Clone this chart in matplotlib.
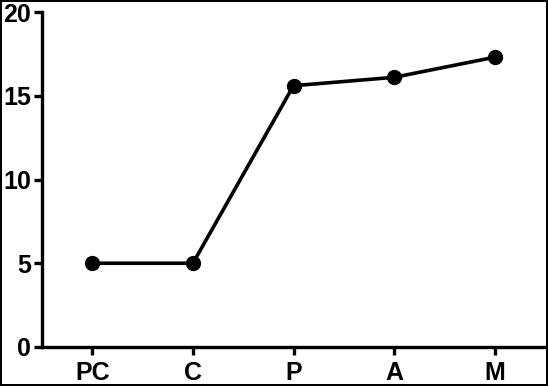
import matplotlib
matplotlib.use("Agg")
from matplotlib import pyplot as plt

groups = ["PC", "C", "P", "A", "M"]
values = [5.0, 5.0, 15.6, 16.1, 17.3]
yticks = [0, 5, 10, 15, 20]

plt.rcParams['font.family'] = ['Liberation Sans', 'DejaVu Sans']
plt.rcParams['font.weight'] = 'bold'

fig = plt.figure(figsize=(5.48, 3.86), dpi=100, edgecolor='black', linewidth=1.5)
ax = fig.add_axes([42/548, 39/386, 503/548, 335/386])

x = list(range(len(groups)))
ax.plot(x, values, color='black', lw=2.6, marker='o', markersize=10)

ax.set_xlim(-0.5, len(groups) - 0.5)
ax.set_ylim(0, 20)
ax.set_xticks(x)
ax.set_xticklabels(groups)
ax.set_yticks(yticks)

for s in ['top', 'right']:
    ax.spines[s].set_visible(False)
for s in ['left', 'bottom']:
    ax.spines[s].set_linewidth(2.4)
ax.tick_params(width=2.4, length=6, labelsize=18)
ax.tick_params(axis='x', pad=4)
ax.tick_params(axis='y', pad=2)

fig.savefig("out.png", dpi=100)
